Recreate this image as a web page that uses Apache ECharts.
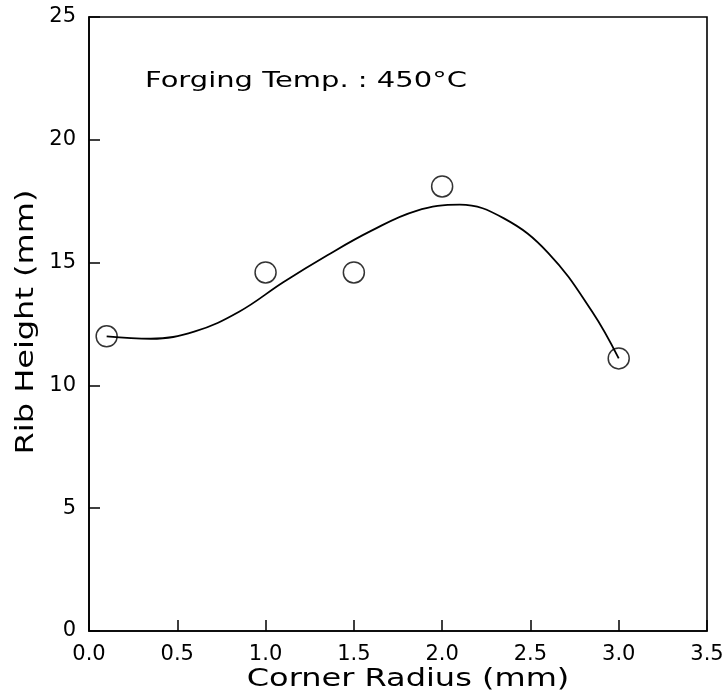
<!DOCTYPE html>
<html>
<head>
<meta charset="utf-8">
<script src="https://cdn.jsdelivr.net/npm/echarts@6/dist/echarts.min.js"></script>
<style>
  html, body { margin: 0; padding: 0; background: #fff; }
  #chart { width: 728px; height: 698px; }
</style>
</head>
<body>
<div id="chart"></div>
<script>
/* Rib height vs corner radius — measured points + fitted curve */

// measured points (circles)
const radius = [0.1, 1.0, 1.5, 2.0, 3.0];
const ribHeight = [12.0, 14.6, 14.6, 18.1, 11.1];

// fitted curve
const curveX = [0.1, 0.35, 0.6, 0.85, 1.1, 1.35, 1.6, 1.85, 2.1, 2.35, 2.6, 2.85, 3.0];
const curveY = [12.0, 11.9, 12.2, 13.0, 14.2, 15.3, 16.3, 17.1, 17.36, 16.8, 15.4, 13.0, 11.1];

const xTitle = 'Corner Radius (mm)';
const yTitle = 'Rib Height (mm)';
const note = 'Forging Temp. : 450°C';

const FONT = '"DejaVu Sans", sans-serif';
const GRID = { left: 89, top: 17, width: 618, height: 614 };

const chart = echarts.init(document.getElementById('chart'), null, { renderer: 'canvas' });

// text stretched sideways (the original font is wide)
function stretchedText(x, y, text, size, sx, rot, align) {
  return {
    type: 'text', x, y, scaleX: sx, rotation: rot || 0,
    style: {
      text, fontSize: size, fontFamily: FONT, fill: '#000',
      textAlign: align || 'center', textVerticalAlign: 'middle'
    }
  };
}

const tick = { show: true, inside: true, length: 11, lineStyle: { color: '#000', width: 1.5 } };

chart.setOption({
  animation: false,
  backgroundColor: '#fff',
  grid: Object.assign({ show: true, borderColor: '#000', borderWidth: 1.6 }, GRID),
  xAxis: {
    type: 'value', min: 0, max: 3.5, interval: 0.5,
    axisLine: { show: true, lineStyle: { color: '#000', width: 1.6 } },
    axisTick: tick,
    axisLabel: { margin: 13, color: '#000', fontSize: 21, fontFamily: FONT,
                 formatter: v => v.toFixed(1) },
    splitLine: { show: false }
  },
  yAxis: {
    type: 'value', min: 0, max: 25, interval: 5,
    axisLine: { show: true, lineStyle: { color: '#000', width: 1.6 } },
    axisTick: tick,
    axisLabel: { margin: 13, color: '#000', fontSize: 21, fontFamily: FONT },
    splitLine: { show: false }
  },
  graphic: [
    stretchedText(408, 679, xTitle, 25, 1.28),
    stretchedText(26, 322, yTitle, 25, 1.28, Math.PI / 2),
    stretchedText(145, 82, note, 21, 1.38, 0, 'left')
  ],
  series: [
    {
      type: 'line', data: curveX.map((x, i) => [x, curveY[i]]),
      smooth: 0.4, showSymbol: false, symbol: 'none',
      lineStyle: { color: '#000', width: 1.8 }, z: 2
    },
    {
      type: 'scatter', data: radius.map((x, i) => [x, ribHeight[i]]),
      symbol: 'circle', symbolSize: 21,
      itemStyle: { color: 'rgba(0,0,0,0)', borderColor: '#000', borderWidth: 1.5 }, z: 3
    }
  ]
});
</script>
</body>
</html>
